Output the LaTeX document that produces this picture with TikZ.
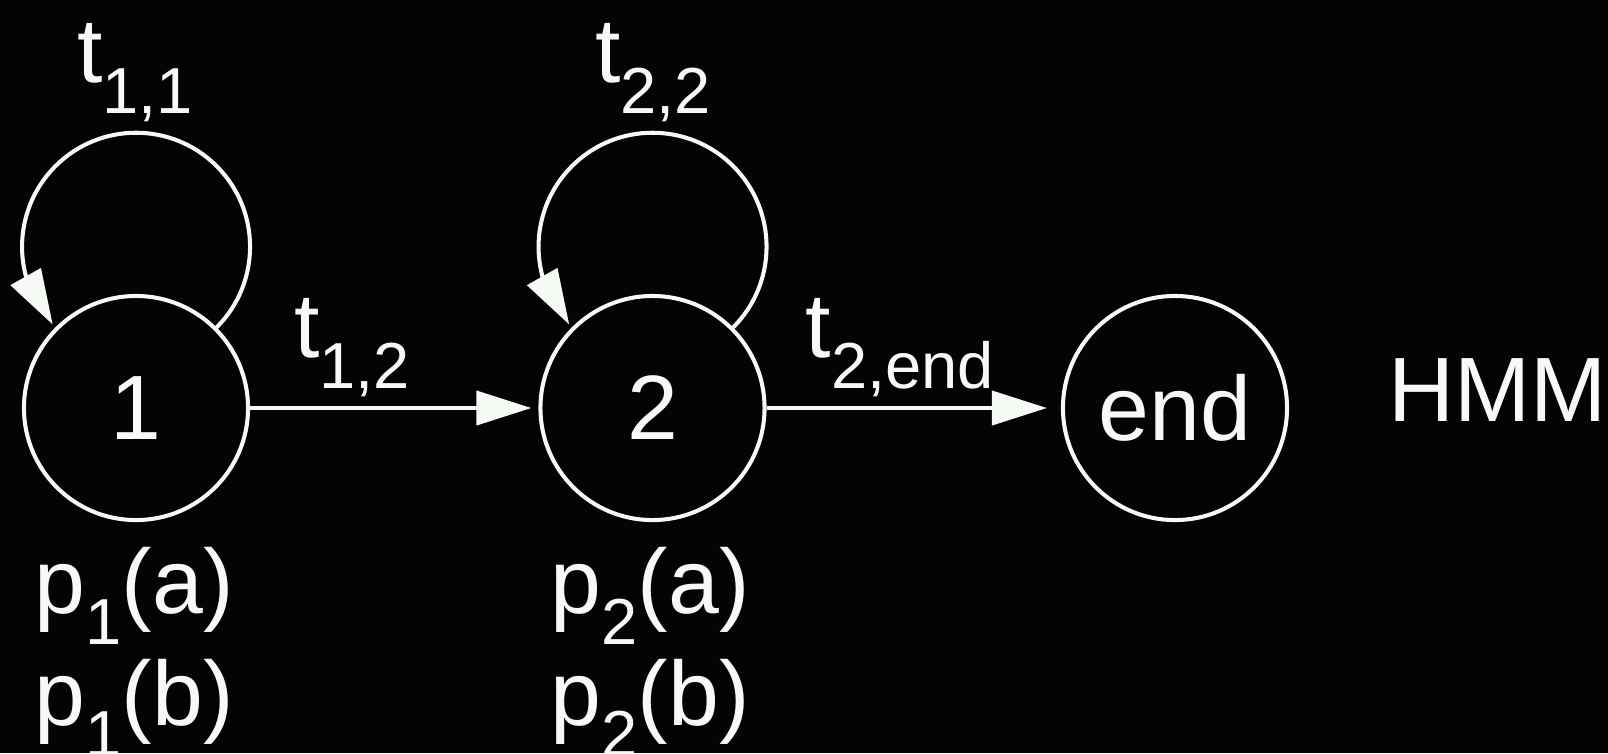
\documentclass[tikz,border=0pt]{standalone}
\usepackage{fontspec}
\setmainfont{Liberation Sans}
\usetikzlibrary{arrows.meta,bending}
\definecolor{bg}{RGB}{6,3,6}
\definecolor{fg}{RGB}{245,250,245}
\newcommand{\sbs}[1]{\raisebox{-0.31cm}{\fontsize{18.5}{20}\selectfont #1}}
\begin{document}
\begin{tikzpicture}[x=0.01cm,y=0.01cm,
  state/.style={circle,draw=fg,line width=1.15pt,minimum size=2.24cm,inner sep=0pt,text=fg,font=\fontsize{26}{30}\selectfont},
  lbl/.style={anchor=base west,inner sep=0pt,text=fg,font=\fontsize{26}{30}\selectfont},
  arr/.style={draw=fg,line width=1.15pt,-{Triangle[length=5.5mm,width=3.4mm,flex]}}]
\fill[bg] (0,0) rectangle (1608,-753);
\useasboundingbox (0,0) rectangle (1608,-753);
\node[state] (n1) at (136,-408) {1};
\node[state] (n2) at (652.5,-408) {2};
\node[state] (nend) at (1175,-408) {end};
\draw[arr, shorten >=0.07cm] (n1) -- (n2);
\draw[arr, shorten >=0.14cm] (n2) -- (nend);
\draw[arr] (n1.45) arc[start angle=-45,end angle=223,radius=114];
\draw[arr] (n2.45) arc[start angle=-45,end angle=223,radius=114];
\node[lbl] (l11) at (76.5,-82) {t\sbs{1,1}};
\node[lbl] (l22) at (594.5,-82) {t\sbs{2,2}};
\node[lbl] (l12) at (293.5,-357) {t\sbs{1,2}};
\node[lbl] (l2e) at (805,-357) {t\sbs{2,end}};
\node[lbl] (p1a) at (34,-613) {p\sbs{1}(a)};
\node[lbl] (p1b) at (34,-725) {p\sbs{1}(b)};
\node[lbl] (p2a) at (550,-613) {p\sbs{2}(a)};
\node[lbl] (p2b) at (550,-725) {p\sbs{2}(b)};
\node[lbl] (hmm) at (1388,-421) {HMM};
\end{tikzpicture}
\end{document}
